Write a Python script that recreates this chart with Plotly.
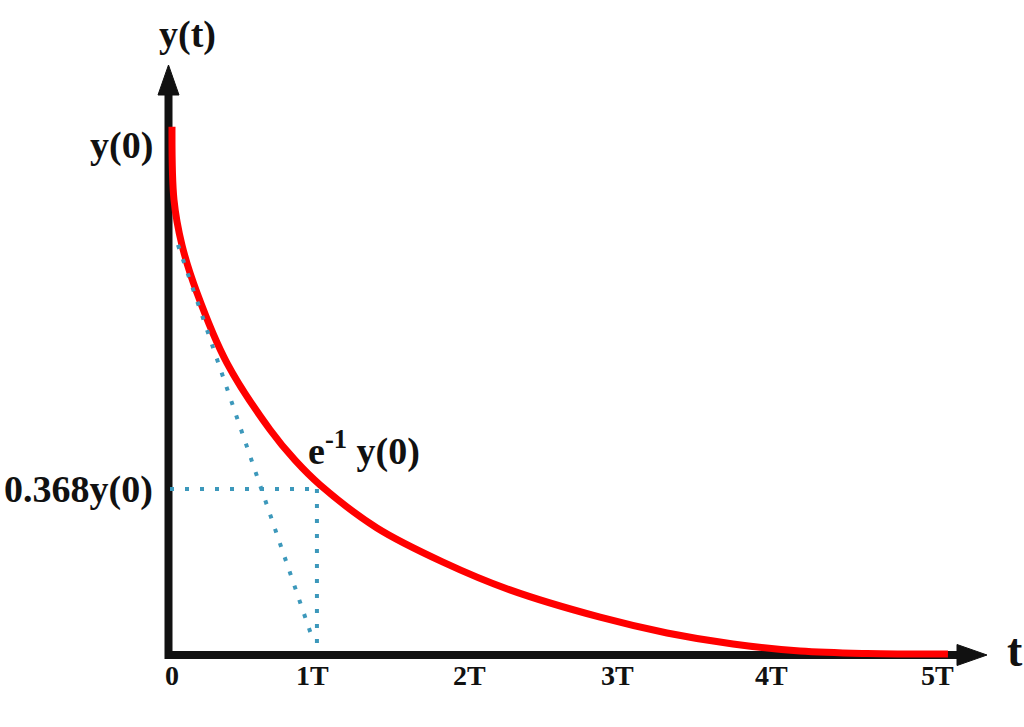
import plotly.graph_objects as go

# ---------------- data ----------------
# time in units of T, response in units of y(0)
curve_t = [0.000, 0.013, 0.065, 0.163, 0.359, 0.640, 0.803, 0.966, 1.338,
           1.769, 2.206, 2.794, 3.231, 3.662, 4.099, 4.537, 5.065]
curve_y = [1.006, 0.867, 0.781, 0.690, 0.556, 0.429, 0.371, 0.324, 0.242,
           0.177, 0.124, 0.072, 0.042, 0.021, 0.0076, 0.0029, 0.0019]

# guide lines (dotted)
level_t = [-0.013, 0.946]          # horizontal at 0.368 y(0)
level_y = [0.316, 0.316]
drop_t = [0.946, 0.946]            # vertical drop at 1T
drop_y = [0.316, 0.0076]
tangent_t = [0.039, 0.914]         # initial tangent
tangent_y = [0.781, 0.034]

tick_labels = ["0", "1T", "2T", "3T", "4T", "5T"]
tick_pos = [0.0, 0.92, 1.945, 2.911, 3.916, 4.999]

y_labels = ["y(0)", "0.368y(0)"]
y_label_pos = [0.971, 0.316]

# ---------------- calibration ----------------
W, H = 1024, 727
X0_PX, PX_PER_T = 172.0, 153.2
Y0_PX, PX_PER_Y = 655.0, 525.0


def tx(px):
    return (px - X0_PX) / PX_PER_T


def ty(py):
    return (Y0_PX - py) / PX_PER_Y


def dx(px):
    return px / PX_PER_T


def dy(py):
    return py / PX_PER_Y


RED = "#ff0000"
TEAL = "#3c98bb"
FONT = "Liberation Serif"

fig = go.Figure()

fig.add_trace(go.Scatter(
    x=curve_t, y=curve_y, mode="lines",
    line=dict(color=RED, width=7, shape="spline", smoothing=1.0),
    hoverinfo="skip", showlegend=False, cliponaxis=False))

for xs, ys in [(level_t, level_y), (drop_t, drop_y), (tangent_t, tangent_y)]:
    fig.add_trace(go.Scatter(
        x=xs, y=ys, mode="lines",
        line=dict(color=TEAL, width=4, dash="4px,11px"),
        hoverinfo="skip", showlegend=False))

# ---------------- axes with arrow heads ----------------
ax_x = tx(168.5)
ax_y = 0.0
y_top_base = ty(95)
y_tip = ty(65)
x_right_base = tx(957)
x_tip = tx(987)
half_w_x = dx(10.5)
half_w_y = dy(10.5)

axis_path = (f"M{ax_x},{y_top_base} L{ax_x},{ax_y} L{x_right_base},{ax_y}")
fig.add_shape(type="path", path=axis_path, xref="x", yref="y",
              line=dict(color="#111111", width=8), layer="below")
fig.add_shape(type="path",
              path=f"M{ax_x - half_w_x},{y_top_base} L{ax_x},{y_tip} L{ax_x + half_w_x},{y_top_base} Z",
              xref="x", yref="y", fillcolor="#111111",
              line=dict(color="#111111", width=1), layer="below")
fig.add_shape(type="path",
              path=f"M{x_right_base},{ax_y + half_w_y} L{x_tip},{ax_y} L{x_right_base},{ax_y - half_w_y} Z",
              xref="x", yref="y", fillcolor="#111111",
              line=dict(color="#111111", width=1), layer="below")

# ---------------- text ----------------
big = dict(family=FONT, size=38, color="#111111", weight="bold")
small = dict(family=FONT, size=28, color="#111111", weight="bold")

for lab, pos in zip(tick_labels, tick_pos):
    fig.add_annotation(x=pos, y=ty(675), text=lab, showarrow=False,
                       xanchor="center", yanchor="middle", font=small)

fig.add_annotation(x=tx(121), y=y_label_pos[0], text=y_labels[0], showarrow=False,
                   xanchor="center", yanchor="middle", font=big)
fig.add_annotation(x=tx(78), y=y_label_pos[1], text=y_labels[1], showarrow=False,
                   xanchor="center", yanchor="middle", font=big)
fig.add_annotation(x=tx(187), y=ty(34), text="y(t)", showarrow=False,
                   xanchor="center", yanchor="middle", font=big)
fig.add_annotation(x=tx(1015), y=ty(650), text="t", showarrow=False,
                   xanchor="center", yanchor="middle",
                   font=dict(family=FONT, size=46, color="#111111", weight="bold"))
fig.add_annotation(x=tx(364), y=ty(448), text="e<sup>-1</sup> y(0)", showarrow=False,
                   xanchor="center", yanchor="middle", font=big)

fig.update_layout(
    width=W, height=H, autosize=False,
    margin=dict(l=0, r=0, t=0, b=0, pad=0),
    paper_bgcolor="white", plot_bgcolor="white",
    xaxis=dict(range=[tx(0), tx(W)], visible=False, fixedrange=True),
    yaxis=dict(range=[ty(H), ty(0)], visible=False, fixedrange=True),
    showlegend=False,
)

fig.write_html("out.html", config={"displayModeBar": False},
               post_script="document.body.style.margin='0';")
